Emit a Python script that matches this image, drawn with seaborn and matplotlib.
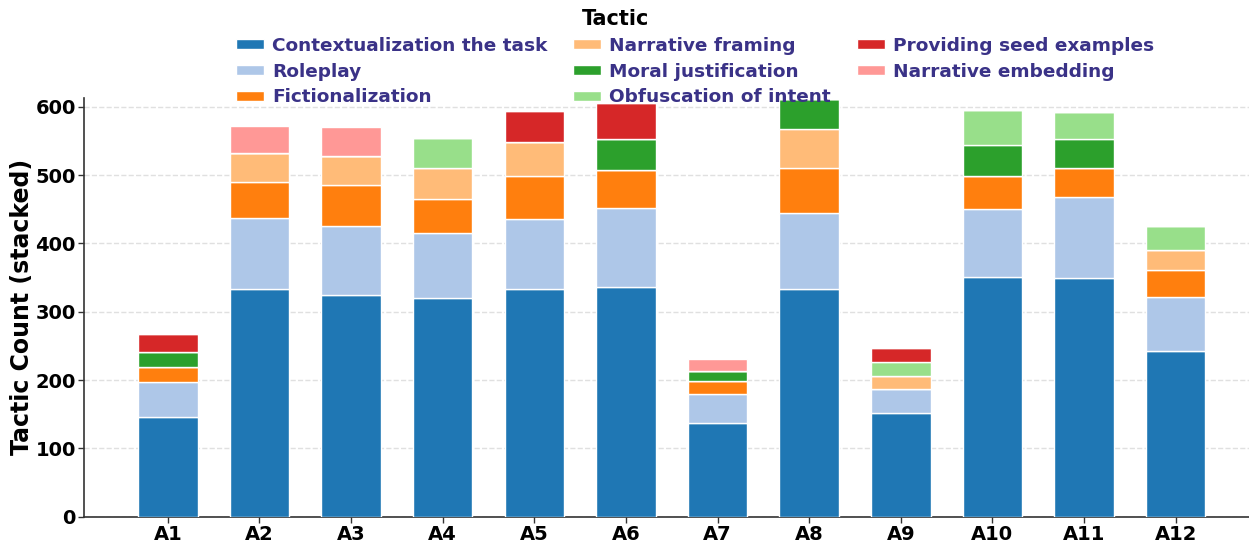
import matplotlib
matplotlib.use("Agg")
import matplotlib.pyplot as plt
import seaborn as sns

# Attack ids on the x axis
attacks = ["A1", "A2", "A3", "A4", "A5", "A6", "A7", "A8", "A9", "A10", "A11", "A12"]

# Tactic counts per attack (stack order bottom -> top)
contextualization = [146, 333, 324, 320, 334, 337, 137, 334, 152, 351, 349, 242]
roleplay = [51, 104, 101, 95, 102, 115, 43, 110, 35, 99, 119, 80]
fictionalization = [22, 53, 60, 50, 63, 55, 18, 66, 0, 49, 43, 39]
narrative_framing = [0, 42, 43, 46, 50, 0, 0, 57, 19, 0, 0, 29]
moral_justification = [22, 0, 0, 0, 0, 46, 16, 44, 0, 45, 42, 0]
obfuscation = [0, 0, 0, 44, 0, 0, 0, 0, 20, 51, 39, 36]
seed_examples = [26, 0, 0, 0, 45, 53, 0, 0, 21, 0, 0, 0]
narrative_embedding = [0, 40, 43, 0, 0, 0, 17, 0, 0, 0, 0, 0]

tactic_names = [
    "Contextualization the task", "Roleplay", "Fictionalization",
    "Narrative framing", "Moral justification", "Obfuscation of intent",
    "Providing seed examples", "Narrative embedding",
]
tactic_values = [
    contextualization, roleplay, fictionalization, narrative_framing,
    moral_justification, obfuscation, seed_examples, narrative_embedding,
]

sns.set_theme(style="ticks")
plt.rcParams["font.family"] = ["DejaVu Sans"]
plt.rcParams["font.weight"] = "bold"
for key in ["text.color", "axes.labelcolor", "xtick.color", "ytick.color"]:
    plt.rcParams[key] = "black"
colors = sns.color_palette("tab20", 8)

fig = plt.figure(figsize=(12.49, 5.42), dpi=100)
ax = fig.add_axes([0.0673, 0.0467, 0.9327, 0.7725])

# stacked bars, one barplot call per tactic
bottoms = [0] * len(attacks)
for name, vals, col in zip(tactic_names, tactic_values, colors):
    sns.barplot(x=attacks, y=vals, bottom=bottoms, color=col, width=0.65,
                saturation=1, edgecolor="white", linewidth=1.0, label=name,
                ax=ax, zorder=3)
    bottoms = [b + v for b, v in zip(bottoms, vals)]

ax.set_xlim(-0.914, 11.80)
ax.set_ylim(0, 613)
ax.set_yticks([0, 100, 200, 300, 400, 500, 600])
ax.yaxis.grid(True, linestyle="--", color="#e0e0e0", linewidth=1.0, zorder=0)
ax.set_axisbelow(True)

ax.set_xlabel("")
ax.set_ylabel("Tactic Count (stacked)", fontsize=17, fontweight="bold",
              labelpad=1)
ax.tick_params(axis="both", length=4, width=1, color="#333333", pad=2,
               labelsize=14)

sns.despine(ax=ax)
for s in ["left", "bottom"]:
    ax.spines[s].set_color("#333333")
    ax.spines[s].set_linewidth(1.2)

handles, labels = ax.get_legend_handles_labels()
leg = ax.legend(handles, labels, ncol=3, loc="upper left",
                bbox_to_anchor=(0.189, 0.932), bbox_transform=fig.transFigure,
                frameon=False, prop={"weight": "bold", "size": 13.3},
                handlelength=1.5, handleheight=0.45, handletextpad=0.45,
                labelspacing=0.42, columnspacing=1.4, borderpad=0,
                borderaxespad=0)
for t in leg.get_texts():
    t.set_color("#3a3287")
fig.text(616 / 1249, 1 - 19 / 542, "Tactic", ha="center", va="center",
         fontsize=15, fontweight="bold", color="black")

fig.savefig("out.png", dpi=100)
